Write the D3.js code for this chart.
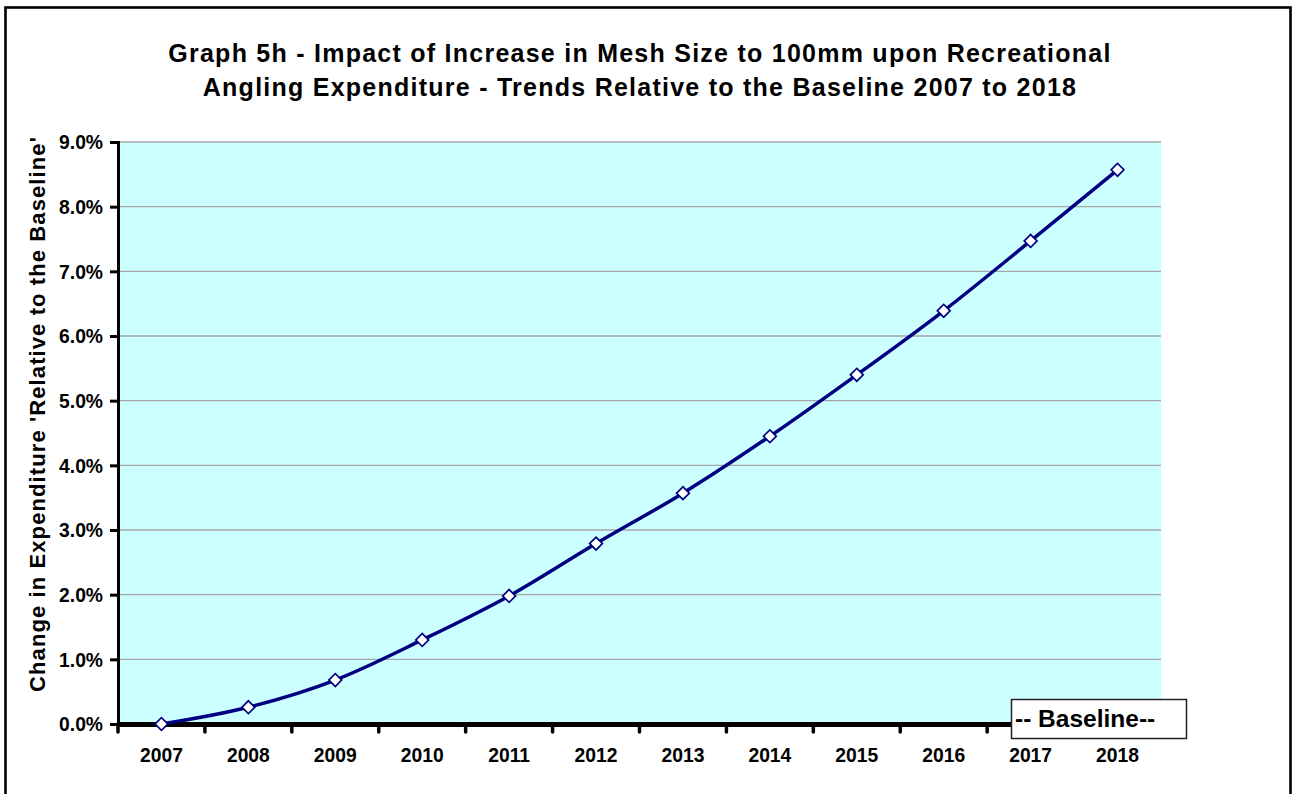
<!DOCTYPE html>
<html>
<head>
<meta charset="utf-8">
<script src="https://cdn.jsdelivr.net/npm/d3@7"></script>
<style>
  html, body { margin: 0; padding: 0; background: #ffffff; }
  svg { display: block; }
  text { font-family: "Liberation Sans", Arial, sans-serif; font-weight: bold; fill: #000; }
</style>
</head>
<body>
<svg id="chart" width="1292" height="794"></svg>
<script>
const titleLines = [
  "Graph 5h - Impact of Increase in Mesh Size to 100mm upon Recreational",
  "Angling Expenditure - Trends Relative to the Baseline 2007 to 2018"
];
const yAxisTitle = "Change in Expenditure 'Relative to the Baseline'";
const legendLabel = "-- Baseline--";
const years = ["2007","2008","2009","2010","2011","2012","2013","2014","2015","2016","2017","2018"];
const changeValues = [0.0000, 0.0026, 0.0068, 0.0130, 0.0198, 0.0279, 0.0357, 0.0445, 0.0540, 0.0639, 0.0747, 0.0857];
const yTicks = [0, 0.01, 0.02, 0.03, 0.04, 0.05, 0.06, 0.07, 0.08, 0.09];

const svg = d3.select("#chart");
const plot = { left: 118, right: 1161, top: 142, bottom: 724 };
const tickFont = "19.3px";

// outer frame
svg.append("rect")
  .attr("x", 5.5).attr("y", 7.5)
  .attr("width", 1285).attr("height", 820)
  .attr("fill", "#ffffff").attr("stroke", "#000").attr("stroke-width", 2.6);

// title
svg.append("text")
  .attr("text-anchor", "middle")
  .style("font-size", "25px")
  .style("letter-spacing", "1.25px")
  .selectAll("tspan").data(titleLines).join("tspan")
  .attr("x", 640)
  .attr("y", (d, i) => 61.5 + i * 34)
  .text(d => d);

const x = d3.scaleBand().domain(years).range([plot.left, plot.right]).padding(0);
const y = d3.scaleLinear().domain([0, 0.09]).range([plot.bottom, plot.top]);

// plot background
svg.append("rect")
  .attr("x", plot.left).attr("y", plot.top)
  .attr("width", plot.right - plot.left).attr("height", plot.bottom - plot.top)
  .attr("fill", "#ccffff");

// gridlines
svg.append("g").selectAll("line").data(yTicks.filter(t => t > 0)).join("line")
  .attr("x1", plot.left).attr("x2", plot.right)
  .attr("y1", d => y(d)).attr("y2", d => y(d))
  .attr("stroke", "#a6a6a6").attr("stroke-width", 1.4);

// y axis
const yAxis = d3.axisLeft(y).tickValues(yTicks).tickFormat(d3.format(".1%")).tickSize(8).tickPadding(7);
const gy = svg.append("g").attr("transform", `translate(${plot.left},0)`).call(yAxis);
gy.select(".domain").attr("stroke", "#000").attr("stroke-width", 3);
gy.selectAll(".tick line").attr("stroke", "#000").attr("stroke-width", 3);
gy.selectAll(".tick text").style("font-size", tickFont).style("font-family", "'Liberation Sans', Arial, sans-serif").style("font-weight", "bold").attr("dy", "0.36em");

// x axis
const xAxis = d3.axisBottom(x).tickSize(0).tickPadding(24);
const gx = svg.append("g").attr("transform", `translate(0,${plot.bottom})`).call(xAxis);
gx.select(".domain").attr("stroke", "#000").attr("stroke-width", 5);
gx.selectAll(".tick text").style("font-size", tickFont).style("font-family", "'Liberation Sans', Arial, sans-serif").style("font-weight", "bold");
// category boundary ticks
const boundaries = years.map(d => x(d)).concat([x(years[years.length - 1]) + x.bandwidth()]);
svg.append("g").selectAll("line").data(boundaries).join("line")
  .attr("x1", d => d).attr("x2", d => d)
  .attr("y1", plot.bottom).attr("y2", plot.bottom + 8)
  .attr("stroke", "#000").attr("stroke-width", 3.5).attr("stroke-linecap", "round");

// y axis title
svg.append("text")
  .attr("transform", "translate(45,414) rotate(-90)")
  .attr("text-anchor", "middle")
  .style("font-size", "22px")
  .style("letter-spacing", "1.1px")
  .text(yAxisTitle);

// line
const cx = d => x(d) + x.bandwidth() / 2;
const line = d3.line()
  .x((d, i) => cx(years[i]))
  .y(d => y(d))
  .curve(d3.curveCatmullRom.alpha(0));
svg.append("path")
  .datum(changeValues)
  .attr("d", line)
  .attr("fill", "none")
  .attr("stroke", "#000080")
  .attr("stroke-width", 3.5);

// markers
svg.append("g").selectAll("path").data(changeValues).join("path")
  .attr("transform", (d, i) => `translate(${cx(years[i])},${y(d)}) rotate(45)`)
  .attr("d", d3.symbol().type(d3.symbolSquare).size(82))
  .attr("fill", "#ffffff")
  .attr("stroke", "#000080")
  .attr("stroke-width", 1.7);

// legend box
svg.append("rect")
  .attr("x", 1011.5).attr("y", 699.5)
  .attr("width", 175).attr("height", 39)
  .attr("fill", "#ffffff").attr("stroke", "#222").attr("stroke-width", 1.5);
svg.append("text")
  .attr("x", 1015).attr("y", 727)
  .style("font-size", "24.5px")
  .text(legendLabel);
</script>
</body>
</html>
